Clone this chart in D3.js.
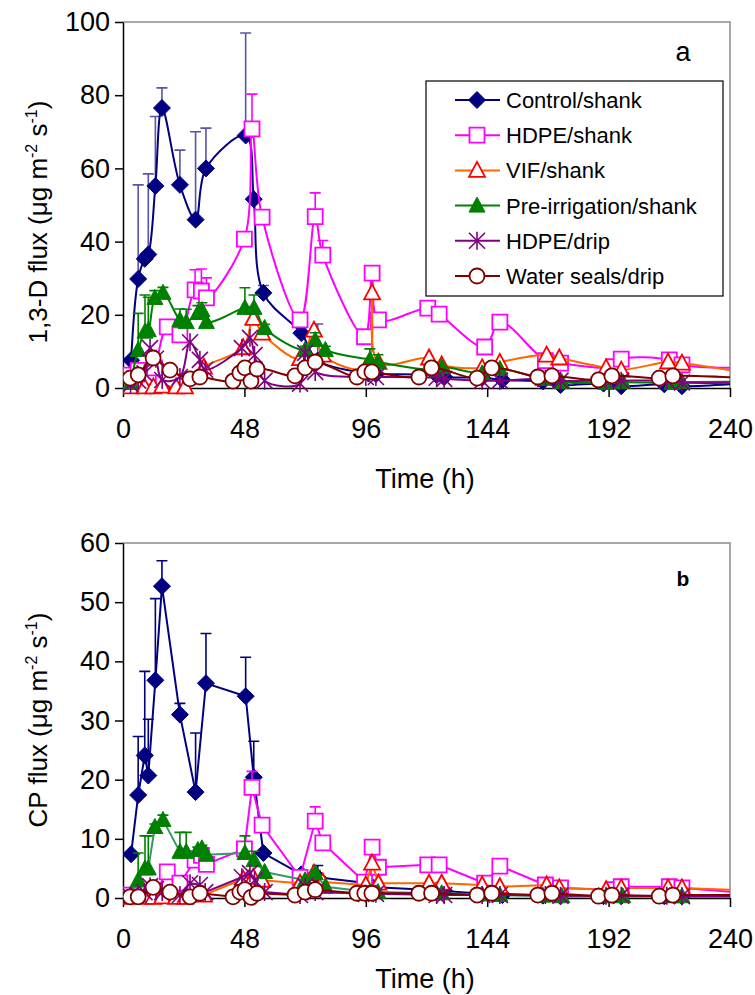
<!DOCTYPE html>
<html>
<head>
<meta charset="utf-8">
<script src="https://cdn.jsdelivr.net/npm/d3@7"></script>
<style>
  body { margin: 0; background: #fff; }
  text { font-family: Arial, "Liberation Sans", sans-serif; }
</style>
</head>
<body>
<svg id="chart" width="755" height="995"></svg>
<script>
// sampling times (h) per treatment, shared by both panels
const ctrlTime = [3.2, 6, 8.6, 10, 12.8, 15.4, 22.5, 28.7, 32.8, 48.5, 51.7, 55.5, 70.5, 77, 97, 100, 124, 127, 142, 150, 166, 173, 190, 197, 214, 221, 244]
const hdpeTime = [3, 6, 8.5, 10, 12.5, 17.5, 22.5, 28.5, 31, 33, 48, 51, 55, 70, 76, 79, 95.5, 98.5, 101, 120.5, 125, 143, 149, 167, 173, 194, 197, 216, 221, 244]
const vifTime = [3, 8.5, 12, 15.5, 21, 24.5, 32, 47.5, 51.5, 55, 70, 75.5, 79, 96, 98.5, 101, 121, 126, 142, 149, 167.5, 172.5, 191, 197, 215.5, 221, 244]
const preTime = [3, 6, 8.7, 10, 12.6, 15.8, 22.5, 25, 29.6, 31.2, 33, 48.2, 51.8, 56, 72, 76, 80, 97.6, 100.8, 124, 126, 142, 149, 166, 173.5, 191, 197.6, 217, 221, 244]
const dripTime = [3, 6, 8.5, 10.7, 13, 15.5, 22.5, 26.5, 30.4, 32.5, 47, 50.2, 52, 56, 70, 72, 76, 96, 100, 124, 127, 142, 149, 167, 173, 191, 197, 215, 221, 244]
const sealTime = [2.8, 6, 11.9, 18.6, 26.5, 30.4, 43.5, 46.2, 48.2, 50.6, 53, 68, 72, 76, 92.5, 95.6, 98.4, 117, 122, 140, 145.8, 164, 169.6, 188, 193.3, 212, 217.4, 244]

// panel a: 1,3-D flux
const ctrlA = [7.6, 29.8, 35.3, 36.5, 55.2, 76.5, 55.5, 46, 60, 69, 51.6, 26, 15, 7.5, 4, 3.8, 3.5, 3, 2.8, 2.2, 1.8, 0.8, 1.2, 0.5, 1, 0.5, 1.2]
const ctrlAerr = [0, 25.7, 0, 22, 19, 5.5, 9.5, 24, 11, 28, 0, 2, 1.5, 10, 1, 1, 0.5, 0.5, 0.5, 0.5, 0, 0, 0, 0, 0, 0, 0]
const hdpeA = [3.5, 4.8, 2.5, 3, 5.5, 16.7, 14.5, 26.8, 26.5, 24.6, 40.7, 70.8, 46.7, 18.6, 46.8, 36.3, 14, 31.4, 18.6, 21.8, 20.2, 11.2, 18, 7.5, 6.8, 5.8, 7.9, 7.7, 6.3, 5.5]
const hdpeAerr = [0, 0, 0, 0, 0, 0, 0, 5.5, 6, 5.5, 0, 9.5, 0, 0, 6.5, 4, 0, 0, 0, 0, 0, 0, 0, 0, 0, 0, 0, 0, 0, 0]
const vifA = [0.3, 0.3, 0.3, 0.5, 0.3, 0.3, 5.7, 11, 19, 15, 8, 15.8, 9, 5.5, 26, 7, 8.2, 6.3, 5.5, 7, 9, 8.2, 5.5, 4.9, 7.1, 6.8, 4.4]
const preA = [1.4, 10.4, 15.4, 15.8, 24.6, 26, 18.6, 18, 20.5, 21.3, 18, 21.9, 21.9, 16.4, 10.4, 13.1, 10.4, 7.7, 7.1, 5, 5.7, 4, 5.2, 2.5, 1.6, 1.4, 1.6, 1.4, 1.6, 1.7]
const preAerr = [0, 10, 10, 9, 2, 1.5, 3, 3.5, 2, 2, 0, 5.5, 3.5, 1, 1, 2, 1, 3, 2, 0.5, 0, 0, 0, 0, 0, 0, 0, 0, 0, 0]
const dripA = [1, 2, 4, 10.9, 8, 2.2, 3, 12.5, 7.7, 5, 10.9, 13.7, 9, 2, 1.2, 9.6, 4.4, 3, 3, 2.8, 2.5, 2, 2, 2.5, 2, 2, 2, 2, 1.5, 1.5]
const sealA = [2.7, 3.6, 8.2, 4.9, 2.5, 3, 1.9, 4.1, 5.5, 1.9, 5.2, 3.3, 5.5, 7.1, 3, 4.4, 4.4, 3, 5.5, 2.7, 5.5, 3, 3.3, 2.2, 3.3, 2.7, 3.3, 2.8]

// panel b: CP flux
const ctrlB = [7.4, 17.4, 24.1, 20.7, 36.8, 52.7, 31, 17.9, 36.3, 34.1, 20.4, 7.6, 4, 3.5, 2.5, 1.8, 1.3, 1.2, 0.7, 0.5, 0.4, 0.3, 0.3, 0.3, 0.3, 0.3, 0.3]
const ctrlBerr = [0, 9.9, 14.2, 9.5, 13.8, 4.3, 1.9, 10, 8.4, 6.6, 6.1, 0, 0, 2, 0.5, 0.5, 0, 0, 0, 0, 0, 0, 0, 0, 0, 0, 0]
const hdpeB = [0.5, 0.5, 0.7, 0.7, 0.7, 4.4, 2.5, 6.4, 7.2, 5.7, 8.3, 18.7, 12.3, 3.5, 13, 9.3, 2.7, 8.6, 5.2, 5.6, 5.6, 2.5, 5.4, 2.2, 1.7, 1.4, 1.9, 1.9, 1.7, 0.9]
const hdpeBerr = [0, 0, 0, 0, 0, 0, 0, 0, 0, 0, 0, 2.7, 0, 0, 2.4, 0, 0, 0, 0, 0, 0, 0, 0, 0, 0, 0, 0, 0, 0, 0]
const vifB = [0.1, 0.1, 0.1, 0.2, 0.1, 0.1, 0.5, 3.2, 3.5, 3, 2.5, 4.2, 2.7, 2.2, 5.9, 2.5, 2.5, 2.5, 2.2, 1.9, 2.2, 1.7, 1.4, 1.7, 1.7, 1.7, 1.35]
const preB = [0.5, 3, 5, 5, 12, 13.2, 7.8, 7.8, 8.1, 8.4, 7.3, 7.6, 6.4, 4.4, 3, 4.2, 1.9, 1, 1, 0.8, 0.8, 0.6, 0.5, 0.4, 0.3, 0.3, 0.3, 0.3, 0.3, 0.3]
const preBerr = [0, 4.6, 5.5, 5.5, 0.5, 0.8, 3.3, 3.3, 0.5, 0.5, 0, 2.9, 1.5, 0, 0, 0.5, 0, 0, 0, 0, 0, 0, 0, 0, 0, 0, 0, 0, 0, 0]
const dripB = [0.3, 0.5, 1, 2, 1.5, 1, 0.5, 2.5, 2.2, 1, 3.5, 4.2, 3, 1, 0.5, 2, 1, 0.7, 0.7, 0.5, 0.5, 0.5, 0.5, 0.5, 0.4, 0.4, 0.4, 0.4, 0.3, 0.3]
const sealB = [0.2, 0.2, 1.8, 1, 0.2, 0.8, 0.2, 1, 1.4, 0.1, 0.8, 0.5, 1, 1.4, 0.8, 0.8, 0.8, 0.8, 0.8, 0.5, 0.8, 0.5, 0.8, 0.3, 0.5, 0.3, 0.5, 0.5]

const seriesNames = ['Control/shank', 'HDPE/shank', 'VIF/shank', 'Pre-irrigation/shank', 'HDPE/drip', 'Water seals/drip']
const xTicks = [0, 48, 96, 144, 192, 240]
const yTicksA = [0, 20, 40, 60, 80, 100]
const yTicksB = [0, 10, 20, 30, 40, 50, 60]

const svg = d3.select('#chart')

// marker drawing
function marker(g, shape, stroke, fill) {
    if (shape === 'circle') {
        g.append('circle').attr('r', 7.5).attr('fill', fill).attr('stroke', stroke).attr('stroke-width', 1.8)
    } else if (shape === 'star') {
        let s = 8
        let p = `M${-s},${-s}L${s},${s}M${-s},${s}L${s},${-s}M0,${-s - 1}L0,${s + 1}`
        g.append('path').attr('d', p).attr('stroke', stroke).attr('stroke-width', 1.6).attr('fill', 'none')
    } else {
        let p
        if (shape === 'diamond') p = 'M0,-8.5L8.5,0L0,8.5L-8.5,0Z'
        if (shape === 'square') p = 'M-7.5,-7.5H7.5V7.5H-7.5Z'
        if (shape === 'triangle') p = 'M0,-8.5L8,6.5L-8,6.5Z'
        g.append('path').attr('d', p).attr('fill', fill).attr('stroke', stroke)
            .attr('stroke-width', fill === 'white' ? 1.8 : 1)
    }
}

function drawPanel(p) {
    let xAxis = d3.scaleLinear().domain([0, 240]).range([123, 730])
    let yAxis = d3.scaleLinear().domain([0, p.ymax]).range([p.bottom, p.top])

    let fig = svg.append('g')

    // plot area border (top/right grey)
    fig.append('path')
        .attr('d', `M123,${p.top}H730V${p.bottom}`)
        .attr('fill', 'none').attr('stroke', '#8c8c8c').attr('stroke-width', 1.5)

    let clipId = 'clip' + p.id
    fig.append('clipPath').attr('id', clipId)
        .append('rect').attr('x', 123).attr('y', p.top - 20)
        .attr('width', 730 - 123).attr('height', p.bottom - p.top + 30)

    let make_xaxis = d3.axisBottom(xAxis).tickValues(xTicks).tickSize(9).tickSizeOuter(0).tickPadding(22)
    let make_yaxis = d3.axisLeft(yAxis).tickValues(p.yticks).tickSize(8).tickSizeOuter(0).tickPadding(5)

    let gx = fig.append('g').attr('transform', `translate(0,${p.bottom})`).call(make_xaxis)
    let gy = fig.append('g').attr('transform', 'translate(123,0)').call(make_yaxis)
    for (let ax of [gx, gy]) {
        ax.selectAll('path, line').attr('stroke', '#000').attr('stroke-width', 1.5)
        ax.selectAll('text').attr('font-size', 27).attr('fill', '#000')
            .style('font-family', 'Arial, "Liberation Sans", sans-serif')
    }

    let plot = fig.append('g').attr('clip-path', `url(#${clipId})`)

    p.series.forEach((s) => {
        let pts = s.time.map((t, i) => ({ t: t, v: s.values[i], e: s.err ? s.err[i] : 0 }))
        let sg = plot.append('g')

        // error bars (upper only)
        let bars = pts.filter((d) => d.e > 0)
        sg.selectAll('.ebar').data(bars).enter().append('path')
            .attr('d', (d) => `M${xAxis(d.t)},${yAxis(d.v)}V${yAxis(d.v + d.e)}M${xAxis(d.t) - 5.5},${yAxis(d.v + d.e)}H${xAxis(d.t) + 5.5}`)
            .attr('stroke', s.errColor).attr('stroke-width', 1.6).attr('fill', 'none')

        let line = d3.line()
            .x((d) => xAxis(d.t))
            .y((d) => yAxis(d.v))
            .curve(p.smooth ? d3.curveCatmullRom.alpha(0.5) : d3.curveLinear)
        sg.append('path').attr('d', line(pts))
            .attr('fill', 'none').attr('stroke', s.line).attr('stroke-width', 2)

        pts.filter((d) => d.t <= 240).forEach((d) => {
            let mg = sg.append('g').attr('transform', `translate(${xAxis(d.t)},${yAxis(d.v)})`)
            marker(mg, s.shape, s.stroke, s.fill)
        })
    })

    // y axis title with superscripts
    let yt = fig.append('text')
        .attr('transform', `translate(47,${p.ylabelY}) rotate(-90)`)
        .attr('text-anchor', 'middle').attr('font-size', 26)
    yt.append('tspan').text(p.ylabel + ' (μg m')
    yt.append('tspan').attr('dy', -10).attr('font-size', 16).text('-2')
    yt.append('tspan').attr('dy', 10).text(' s')
    yt.append('tspan').attr('dy', -10).attr('font-size', 16).text('-1')
    yt.append('tspan').attr('dy', 10).text(')')

    fig.append('text').attr('x', 425).attr('y', p.xlabelY)
        .attr('text-anchor', 'middle').attr('font-size', 27).text('Time (h)')

    fig.append('text').attr('x', 683).attr('y', p.tagY)
        .attr('text-anchor', 'middle').attr('font-size', p.tagSize)
        .attr('font-weight', p.tagBold ? 'bold' : 'normal').text(p.tag)
}

const styles = [
    { shape: 'diamond', stroke: '#000080', fill: '#000080', line: '#000080' },
    { shape: 'square', stroke: '#ff00ff', fill: 'white', line: '#ff00ff', errColor: '#ff00ff' },
    { shape: 'triangle', stroke: '#ff0000', fill: 'white', line: '#ff6600', errColor: '#ff6600' },
    { shape: 'triangle', stroke: '#008000', fill: '#008000', line: '#008000', errColor: '#008000' },
    { shape: 'star', stroke: '#800080', fill: 'none', line: '#800080' },
    { shape: 'circle', stroke: '#800000', fill: 'white', line: '#800000' }
]

drawPanel({
    id: 'a', top: 22, bottom: 388, ymax: 100, yticks: yTicksA, smooth: true,
    ylabel: '1,3-D flux', ylabelY: 222, xlabelY: 488, tag: 'a', tagY: 61, tagSize: 27, tagBold: false,
    series: [
        Object.assign({}, styles[0], { time: ctrlTime, values: ctrlA, err: ctrlAerr, errColor: '#5555aa' }),
        Object.assign({}, styles[1], { time: hdpeTime, values: hdpeA, err: hdpeAerr }),
        Object.assign({}, styles[2], { time: vifTime, values: vifA }),
        Object.assign({}, styles[3], { time: preTime, values: preA, err: preAerr }),
        Object.assign({}, styles[4], { time: dripTime, values: dripA }),
        Object.assign({}, styles[5], { time: sealTime, values: sealA })
    ]
})

drawPanel({
    id: 'b', top: 543, bottom: 898, ymax: 60, yticks: yTicksB, smooth: false,
    ylabel: 'CP flux', ylabelY: 720, xlabelY: 988, tag: 'b', tagY: 586, tagSize: 21, tagBold: true,
    series: [
        Object.assign({}, styles[0], { time: ctrlTime, values: ctrlB, err: ctrlBerr, errColor: '#000080' }),
        Object.assign({}, styles[1], { time: hdpeTime, values: hdpeB, err: hdpeBerr }),
        Object.assign({}, styles[2], { time: vifTime, values: vifB }),
        Object.assign({}, styles[3], { time: preTime, values: preB, err: preBerr, line: '#339966' }),
        Object.assign({}, styles[4], { time: dripTime, values: dripB }),
        Object.assign({}, styles[5], { time: sealTime, values: sealB })
    ]
})

// legend (panel a only)
let leg = svg.append('g')
leg.append('rect').attr('x', 426).attr('y', 81).attr('width', 297).attr('height', 215)
    .attr('fill', 'white').attr('stroke', '#000').attr('stroke-width', 1.2)
seriesNames.forEach((name, i) => {
    let s = styles[i]
    let ly = 100 + i * 35.2
    leg.append('line').attr('x1', 455).attr('x2', 500).attr('y1', ly).attr('y2', ly)
        .attr('stroke', s.line).attr('stroke-width', 2)
    marker(leg.append('g').attr('transform', `translate(477,${ly})`), s.shape, s.stroke, s.fill)
    leg.append('text').attr('x', 506).attr('y', ly).attr('dy', '0.36em')
        .attr('font-size', 22).text(name)
})
</script>
</body>
</html>
